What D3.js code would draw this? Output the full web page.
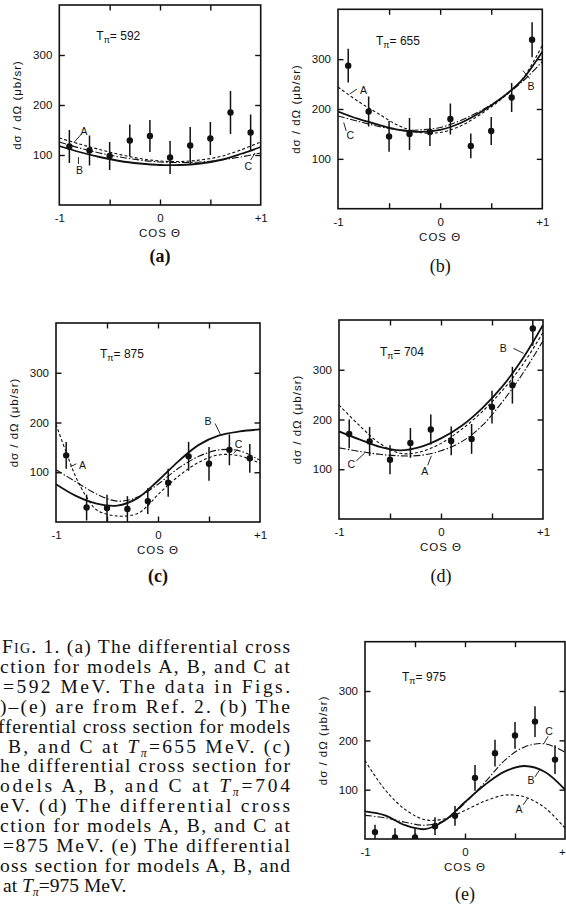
<!DOCTYPE html>
<html lang="en">
<head>
<meta charset="UTF-8">
<script src="https://cdn.jsdelivr.net/npm/d3@7"></script>
<title>Differential cross sections</title>
<style>
  * { margin: 0; padding: 0; }
  body { background: #fff; width: 566px; height: 905px; overflow: hidden; }
  svg { display: block; }
  .sans { font-family: 'Liberation Sans', Arial, sans-serif; fill: #111; }
  .serif { font-family: 'Liberation Serif', 'Times New Roman', serif; fill: #111; }
</style>
</head>
<body>
<svg id="chart" width="566" height="905"></svg>
<script>
// cos(theta) of the measured points and of the grid the model curves were read on
const pointCos = [-0.9, -0.7, -0.5, -0.3, -0.1, 0.1, 0.3, 0.5, 0.7, 0.9];
const curveCos = [-1, -0.8, -0.6, -0.4, -0.2, 0, 0.2, 0.4, 0.6, 0.8, 1];
const curveCosFine = [-1, -0.9, -0.8, -0.7, -0.6, -0.4, -0.2, -0.1, 0, 0.2, 0.4, 0.6, 0.8, 1];
const yTicks = [100, 200, 300];
const xTicks = [-0.5, 0, 0.5];
const xTickLabels = [-1, 0, 1];
const xTickText = ['-1', '0', '+1'];

// (a) T = 592
const pts592 = [117, 109, 98, 129, 138, 95, 119, 133, 185, 145];
const err592 = [33, 30, 28, 32, 32, 33, 37, 33, 43, 36];
const modelA592 = [134, 122, 111, 101, 93, 88, 87, 90, 97, 110, 126];
const modelB592 = [118, 106, 96, 88, 83, 80, 80, 83, 90, 102, 116];
const modelC592 = [126, 114, 104, 96, 90, 86, 85, 86, 90, 96, 104];

// (b) T = 655
const pts655 = [287, 195, 145, 150, 154, 180, 126, 156, 223, 339];
const err655 = [34, 30, 31, 32, 28, 31, 25, 28, 29, 35];
const modelA655 = [244, 215, 190, 166, 153, 153, 166, 190, 220, 258, 328];
const modelB655 = [195, 180, 168, 158, 154, 158, 172, 194, 222, 258, 315];
const modelC655 = [186, 175, 165, 158, 158, 163, 177, 197, 222, 254, 295];

// (c) T = 875  (model A read on the finer grid)
const pts875 = [134, 29, 28, 26, 42, 79, 132, 117, 145, 128];
const err875 = [27, 26, 27, 26, 26, 28, 29, 34, 31, 29];
const modelA875 = [196, 140, 88, 50, 24, 12, 17, 33, 55, 92, 120, 135, 133, 118];
const modelB875 = [76, 52, 37, 33, 48, 83, 122, 155, 174, 182, 186];
const modelC875 = [105, 80, 56, 42, 50, 76, 108, 132, 145, 143, 124];

// (d) T = 704
const pts704 = [171, 156, 119, 153, 180, 157, 161, 225, 269, 383];
const err704 = [29, 29, 29, 30, 30, 29, 30, 33, 37, 35];
const modelA704 = [229, 188, 152, 132, 135, 152, 180, 215, 258, 310, 375];
const modelB704 = [176, 160, 145, 138, 145, 162, 187, 222, 266, 322, 390];
const modelC704 = [143, 136, 130, 127, 128, 137, 155, 187, 235, 292, 358];

// (e) T = 975
const pts975 = [14, 3, 3, 26, 47, 124, 174, 210, 238, 161];
const err975 = [15, 19, 19, 18, 20, 26, 27, 27, 31, 29];
const modelA975 = [159, 100, 60, 39, 41, 58, 77, 89, 85, 63, 22];
const modelB975 = [56, 48, 28, 20, 38, 75, 110, 137, 148, 136, 100];
const modelC975 = [48, 43, 34, 28, 38, 73, 115, 160, 187, 193, 176];

// curve labels: text position and leader line, in data units
const labels592 = [
  { t: 'A', at: [-0.755, 148], from: [-0.78, 142], to: [-0.855, 125] },
  { t: 'B', at: [-0.80, 70], from: [-0.81, 82], to: [-0.81, 96] },
  { t: 'C', at: [0.877, 78], from: [0.90, 90], to: [0.943, 104] }
];
const labels655 = [
  { t: 'A', at: [-0.75, 238], from: [-0.814, 240], to: [-0.886, 230] },
  { t: 'B', at: [0.89, 246], from: [0.876, 261], to: [0.81, 277] },
  { t: 'C', at: [-0.88, 147], from: [-0.92, 156], to: [-0.944, 173] }
];
const labels875 = [
  { t: 'B', at: [0.49, 204], from: [0.56, 198], to: [0.61, 177] },
  { t: 'C', at: [0.79, 156], from: [0.78, 146], to: [0.74, 138] },
  { t: 'A', at: [-0.74, 115], from: [-0.80, 117], to: [-0.86, 111] }
];
const labels704 = [
  { t: 'B', at: [0.61, 344], from: [0.71, 343], to: [0.81, 333] },
  { t: 'C', at: [-0.88, 110], from: [-0.83, 117], to: [-0.75, 132] },
  { t: 'A', at: [-0.16, 97], from: [-0.13, 108], to: [-0.095, 127] }
];
const labels975 = [
  { t: 'C', at: [0.84, 219], from: [0.83, 208], to: [0.79, 194] },
  { t: 'B', at: [0.66, 119], from: [0.70, 126], to: [0.745, 140] },
  { t: 'A', at: [0.54, 60], from: [0.58, 69], to: [0.63, 83] }
];

const captionLines = [
  'Fig. 1. (a) The differential cross',
  'ction for models A, B, and C at',
  '=592 MeV. The data in Figs.',
  ')\u2013(e) are from Ref. 2. (b) The',
  'fferential cross section for models',
  'B, and C at T\u03c0=655 MeV. (c)',
  'he differential cross section for',
  'odels A, B, and C at T\u03c0=704',
  'eV. (d) The differential cross',
  'ction for models A, B, and C at',
  '=875 MeV. (e) The differential',
  'oss section for models A, B, and',
  'at T\u03c0=975 MeV.'
];
const captionStartX = [2, 0, 3, 0, -2, 8, 0, 0, 0, 0, 3, 0, 3];

const zip = (xs, ys) => xs.map((v, i) => [v, ys[i]]);

const panels = [
  { tag: '(a)', bold: true, energy: '592', left: 59.3, top: 5, width: 201.4, height: 200,
    pts: pts592, err: err592, A: zip(curveCos, modelA592), B: zip(curveCos, modelB592), C: zip(curveCos, modelC592),
    labels: labels592, eOff: [37, 35], capDy: 57 },
  { tag: '(b)', bold: false, energy: '655', left: 338, top: 9.3, width: 204.3, height: 199.4,
    pts: pts655, err: err655, A: zip(curveCos, modelA655), B: zip(curveCos, modelB655), C: zip(curveCos, modelC655),
    labels: labels655, eOff: [38, 36], capDy: 63 },
  { tag: '(c)', bold: true, energy: '875', left: 56, top: 323, width: 204, height: 199,
    pts: pts875, err: err875, A: zip(curveCosFine, modelA875), B: zip(curveCos, modelB875), C: zip(curveCos, modelC875),
    labels: labels875, eOff: [44, 35], capDy: 60 },
  { tag: '(d)', bold: false, energy: '704', left: 339, top: 320, width: 204, height: 199,
    pts: pts704, err: err704, A: zip(curveCos, modelA704), B: zip(curveCos, modelB704), C: zip(curveCos, modelC704),
    labels: labels704, eOff: [41, 36], capDy: 63 },
  { tag: '(e)', bold: false, energy: '975', left: 365, top: 641.7, width: 200, height: 197.3,
    pts: pts975, err: err975, A: zip(curveCos, modelA975), B: zip(curveCos, modelB975), C: zip(curveCos, modelC975),
    labels: labels975, eOff: [37, 39], capDy: 61 }
];

const modelStyle = {
  A: { width: 1.1, dash: '3,2.2' },
  B: { width: 1.8, dash: null },
  C: { width: 1.1, dash: '7,2,1.5,2' }
};

const svg = d3.select('#chart');
const ink = '#111';

panels.forEach((p, pi) => {
  const x = d3.scaleLinear().domain([-1, 1]).range([0, p.width]);
  const y = d3.scaleLinear().domain([0, 400]).range([p.height, 0]);
  const g = svg.append('g').attr('transform', `translate(${p.left},${p.top})`);

  g.append('clipPath').attr('id', 'clip' + pi)
    .append('rect').attr('width', p.width).attr('height', p.height);

  // inward ticks on all four sides
  const axes = [
    [d3.axisLeft(y).tickValues(yTicks), 0, 0],
    [d3.axisRight(y).tickValues(yTicks).tickFormat(''), p.width, 0],
    [d3.axisTop(x).tickValues(xTicks).tickFormat(''), 0, 0],
    [d3.axisBottom(x).tickValues(xTicks).tickFormat(''), 0, p.height]
  ];
  axes.forEach(([ax, tx, ty]) => {
    const a = g.append('g').attr('transform', `translate(${tx},${ty})`)
      .call(ax.tickSizeInner(-5.5).tickSizeOuter(0).tickPadding(7));
    a.select('.domain').remove();
    a.selectAll('line').attr('stroke', ink).attr('stroke-width', 1.4);
    a.selectAll('text').attr('class', 'sans').attr('font-size', 11.5).attr('font-family', null);
  });

  // tick labels -1, 0, +1
  const bx = g.append('g').attr('transform', `translate(0,${p.height})`)
    .call(d3.axisBottom(x).tickValues(xTickLabels).tickSize(0).tickPadding(9)
      .tickFormat((d, i) => xTickText[i]));
  bx.select('.domain').remove();
  bx.selectAll('text').attr('class', 'sans').attr('font-size', 11.5).attr('font-family', null);

  g.append('rect').attr('width', p.width).attr('height', p.height)
    .attr('fill', 'none').attr('stroke', ink).attr('stroke-width', 1.6);

  // model curves
  const line = d3.line().x(d => x(d[0])).y(d => y(d[1])).curve(d3.curveCatmullRom.alpha(0.5));
  const cg = g.append('g').attr('clip-path', `url(#clip${pi})`);
  ['C', 'A', 'B'].forEach(k => {
    cg.append('path').datum(p[k]).attr('d', line)
      .attr('fill', 'none').attr('stroke', ink)
      .attr('stroke-width', modelStyle[k].width)
      .attr('stroke-dasharray', modelStyle[k].dash);
  });

  // data with error bars
  const pts = zip(pointCos, p.pts).map((d, i) => ({ c: d[0], v: d[1], e: p.err[i] }));
  cg.selectAll('line.err').data(pts).enter().append('line')
    .attr('x1', d => x(d.c)).attr('x2', d => x(d.c))
    .attr('y1', d => y(d.v + d.e)).attr('y2', d => y(d.v - d.e))
    .attr('stroke', ink).attr('stroke-width', 1.5);
  cg.selectAll('circle').data(pts).enter().append('circle')
    .attr('cx', d => x(d.c)).attr('cy', d => y(d.v)).attr('r', 3.2).attr('fill', ink);

  // curve labels with leader lines
  p.labels.forEach(l => {
    g.append('line')
      .attr('x1', x(l.from[0])).attr('y1', y(l.from[1]))
      .attr('x2', x(l.to[0])).attr('y2', y(l.to[1]))
      .attr('stroke', ink).attr('stroke-width', 0.9);
    g.append('text').attr('class', 'sans')
      .attr('x', x(l.at[0])).attr('y', y(l.at[1]))
      .attr('text-anchor', 'middle').attr('dominant-baseline', 'central')
      .attr('font-size', 10.5).text(l.t);
  });

  // T_pi label
  const et = g.append('text').attr('class', 'sans')
    .attr('x', p.eOff[0]).attr('y', p.eOff[1]).attr('font-size', 12);
  et.append('tspan').text('T');
  et.append('tspan').attr('font-size', 9).attr('dy', 3).text('\u03c0');
  et.append('tspan').attr('dy', -3).text('= ' + p.energy);

  // axis titles
  g.append('text').attr('class', 'sans')
    .attr('transform', `translate(-42,${p.height / 2}) rotate(-90)`)
    .attr('text-anchor', 'middle').attr('dominant-baseline', 'central')
    .attr('font-size', 11.5).attr('letter-spacing', 1)
    .text('d\u03c3 / d\u03a9 (\u03bcb/sr)');
  g.append('text').attr('class', 'sans')
    .attr('x', p.width / 2).attr('y', p.height + 32)
    .attr('text-anchor', 'middle').attr('font-size', 11.5).attr('letter-spacing', 1)
    .text('COS \u0398');

  g.append('text').attr('class', 'serif')
    .attr('x', p.width / 2).attr('y', p.height + p.capDy)
    .attr('text-anchor', 'middle').attr('font-size', 18)
    .attr('font-weight', p.bold ? 'bold' : 'normal')
    .text(p.tag);
});

// figure caption (left column, cropped at the page edge)
const cap = svg.append('g');
captionLines.forEach((s, i) => {
  const t = cap.append('text').attr('class', 'serif')
    .attr('x', captionStartX[i]).attr('y', 653 + i * 19.9)
    .style('font-size', '19.5px');
  if (i < captionLines.length - 1) {
    t.attr('textLength', 290 - captionStartX[i]).attr('lengthAdjust', 'spacing');
  }
  if (s.startsWith('Fig.')) {
    t.append('tspan').style('font-variant', 'small-caps').text('Fig.');
    s = s.slice(4);
  }
  const parts = s.split('T\u03c0');
  parts.forEach((part, j) => {
    if (j > 0) {
      t.append('tspan').attr('font-style', 'italic').text('T');
      t.append('tspan').attr('font-style', 'italic').style('font-size', '12px').attr('dy', 4).text('\u03c0');
      t.append('tspan').attr('dy', -4).text(part);
    } else {
      t.append('tspan').text(part);
    }
  });
});
</script>
</body>
</html>
